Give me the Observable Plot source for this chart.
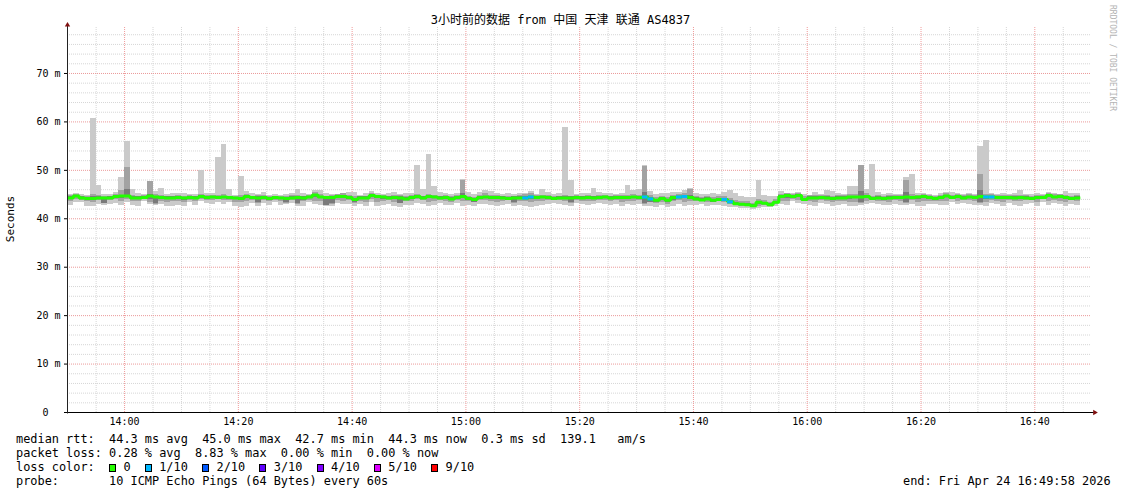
<!DOCTYPE html>
<html><head><meta charset="utf-8">
<script src="https://cdn.jsdelivr.net/npm/d3@7"></script>
<script src="https://cdn.jsdelivr.net/npm/@observablehq/plot@0.6"></script>
<style>
body{margin:0;background:#fff;}
#wrap{position:relative;width:1121px;height:494px;overflow:hidden;font-family:"DejaVu Sans Mono","Noto Sans CJK SC",monospace;color:#000;background:#fff;}
#wrap svg{position:absolute;left:0;top:0;}
.abs{position:absolute;white-space:pre;}
.lg{position:absolute;left:16px;white-space:pre;font-size:11.9px;line-height:14.5px;}
.sq{display:inline-block;box-sizing:border-box;width:7px;height:8px;border:1px solid #000;vertical-align:-1px;margin-right:0.16px;}
</style></head><body><div id="wrap"></div>
<script>
// ---- data (one value per minute, starting 13:50 UTC) ----
const med = [
44.3,44.7,44.3,44.2,44.2,44.3,44.3,44.3,44.6,44.7,
44.7,44.3,44.3,44.4,44.7,44.5,44.4,44.3,44.3,44.4,
44.3,44.4,44.3,44.6,44.4,44.5,44.4,44.5,44.4,44.3,
44.2,44.6,44.4,44.3,44.4,44.2,44.4,44.3,44.2,44.3,
44.4,44.3,44.5,44.9,44.5,44.4,44.4,44.6,44.6,44.4,
44.0,44.3,44.3,44.8,44.6,44.5,44.3,44.4,44.3,44.1,
44.4,44.6,44.3,44.6,44.5,44.3,44.4,44.1,44.4,44.6,
44.2,44.0,44.4,44.5,44.4,44.4,44.3,44.2,44.3,44.3,
44.3,44.5,44.4,44.5,44.4,44.2,44.3,44.3,44.3,44.4,
44.3,44.4,44.3,44.4,44.5,44.3,44.4,44.4,44.4,44.5,
44.4,44.5,44.1,43.8,44.2,43.8,44.4,44.5,44.6,44.4,
44.1,43.9,44.1,43.8,44.0,44.0,43.5,43.1,43.0,42.9,
42.7,43.4,43.2,42.9,43.4,44.6,44.8,44.6,44.8,44.0,
44.3,44.3,44.4,44.3,44.2,44.3,44.3,44.5,44.5,44.5,
44.6,44.2,44.3,44.2,44.3,44.4,44.4,44.5,44.4,44.5,
44.6,44.4,44.2,44.4,44.7,44.4,44.6,44.3,44.5,44.4,
44.6,44.5,44.5,44.4,44.4,44.4,44.3,44.4,44.3,44.2,
44.4,44.4,44.8,44.5,44.6,44.4,44.2,44.3];
const pingMax = [
45.0,45.2,45.1,44.9,60.7,46.9,45.1,45.0,45.4,48.6,
56.0,46.1,45.3,45.1,47.7,45.6,46.3,45.0,45.2,45.3,
45.2,45.1,45.0,49.9,45.3,45.2,52.6,55.4,46.1,44.9,
48.8,45.7,45.3,45.0,45.5,44.9,45.0,44.9,45.1,45.3,
46.1,45.2,45.1,45.8,45.9,45.2,45.1,45.0,45.3,45.5,
45.4,44.9,45.2,45.6,45.3,45.1,45.2,45.4,45.0,45.3,
45.2,51.0,46.1,53.3,46.6,45.4,45.2,45.0,45.3,48.1,
45.4,45.1,45.4,45.9,45.6,45.3,45.1,45.2,45.0,45.2,
45.2,45.6,45.0,46.1,45.5,45.0,45.2,58.8,47.8,45.1,
45.3,45.3,46.2,45.5,45.3,45.2,45.0,45.2,46.9,45.9,
46.1,50.9,45.6,45.1,45.2,45.3,45.5,45.5,45.9,46.2,
45.3,45.1,45.0,45.2,45.1,45.4,45.9,45.2,44.6,44.4,
44.3,48.0,44.9,44.5,44.7,45.7,45.3,45.2,45.5,45.0,
44.9,45.4,45.0,45.8,45.6,45.3,45.1,46.7,46.6,51.1,
46.1,51.3,45.4,45.0,45.2,45.1,45.0,48.6,49.2,45.3,
45.3,45.1,44.9,45.2,45.4,45.5,45.2,45.1,45.3,45.0,
55.0,56.2,45.3,45.1,45.2,45.0,45.2,45.9,45.1,45.0,
45.2,45.0,45.4,45.2,45.1,45.6,45.3,45.2];
const pingMin = [
42.7,43.3,43.4,42.6,42.6,43.0,42.7,42.9,43.1,42.8,
43.4,42.8,42.6,43.5,42.9,42.7,43.0,42.5,42.6,42.8,
42.5,43.3,42.7,43.5,43.1,42.9,43.4,43.0,43.3,42.5,
42.3,42.6,43.2,42.5,43.1,42.7,43.3,42.7,42.9,43.1,
42.5,42.6,43.3,42.9,42.7,42.6,42.5,43.2,42.9,43.0,
42.5,42.9,42.6,43.3,42.5,42.8,43.0,42.5,42.4,42.7,
42.8,43.2,43.0,42.5,42.7,43.1,42.8,42.7,43.1,42.6,
42.8,42.5,43.0,42.9,42.7,42.5,42.7,43.0,42.6,42.8,
42.6,42.4,42.6,42.7,42.9,43.1,43.0,42.7,42.6,43.1,
42.9,42.7,42.9,43.2,43.0,42.8,43.0,42.6,42.9,42.7,
43.0,42.6,42.5,42.4,42.7,42.4,42.5,42.9,42.5,42.7,
42.8,42.9,42.5,42.7,42.8,42.6,42.4,42.3,42.2,42.2,
41.9,42.1,42.3,42.4,42.6,43.0,42.8,43.5,43.2,43.0,
42.8,42.5,43.1,42.9,42.6,42.7,42.9,42.5,42.5,42.7,
42.9,43.1,42.9,42.8,42.7,43.0,42.8,42.8,43.0,42.6,
42.6,42.9,43.0,42.7,42.8,43.3,42.9,43.2,43.0,42.7,
42.8,42.6,43.1,42.9,42.6,43.2,42.8,42.6,43.0,43.2,
42.6,43.4,42.7,43.1,42.9,42.6,43.0,42.7];
const ping9 = [
44.8,45.0,44.7,44.6,45.0,44.9,44.6,44.7,45.0,45.9,
50.5,44.8,44.7,44.9,47.6,45.1,44.8,44.7,44.7,44.9,
44.6,44.8,44.7,45.0,44.8,44.9,44.9,45.0,44.7,44.6,
44.9,45.0,44.7,44.8,44.9,44.6,44.7,44.5,44.6,44.8,
44.8,44.7,44.9,45.4,45.0,44.7,44.8,45.0,45.2,44.8,
44.6,44.7,44.7,45.3,44.9,44.8,44.7,44.9,44.8,44.6,
44.8,45.1,44.7,45.0,44.9,44.7,44.8,44.5,44.8,48.0,
44.6,44.4,44.8,45.2,44.9,44.8,44.7,44.6,44.7,44.8,
45.0,45.2,44.8,44.9,44.8,44.6,44.7,44.8,44.7,44.8,
44.7,44.8,44.7,44.8,44.9,44.7,44.8,44.8,44.8,45.0,
44.9,50.8,44.8,44.4,44.7,44.3,44.9,45.1,45.2,46.1,
44.6,44.4,44.6,44.3,44.6,44.7,44.2,43.7,43.6,43.5,
43.2,43.9,43.7,43.4,43.9,45.1,45.2,45.0,45.3,44.6,
44.8,44.8,44.9,44.8,44.7,44.8,44.8,45.0,45.1,51.0,
45.2,44.7,44.8,44.7,44.8,44.9,44.9,47.8,45.0,44.9,
45.1,44.9,44.7,44.9,45.2,44.9,45.1,44.8,45.0,44.9,
49.2,45.0,45.0,44.9,44.8,44.9,44.8,44.9,44.8,44.7,
44.9,44.9,45.2,45.0,45.1,44.9,44.7,44.8];
const ping2 = [
43.6,43.9,43.8,43.5,43.4,43.8,43.1,43.7,43.9,43.6,
43.9,43.6,43.5,43.9,43.4,43.0,43.6,43.4,43.5,43.6,
43.4,43.8,43.6,44.0,43.8,43.7,43.9,43.8,43.7,43.4,
43.3,43.5,43.8,43.1,43.7,43.5,43.8,43.6,43.1,43.7,
43.0,43.5,43.8,43.6,43.5,42.7,43.0,43.8,43.6,43.7,
43.2,43.6,43.4,43.9,43.4,43.6,43.7,43.4,43.2,43.5,
43.6,43.9,43.7,43.4,43.5,43.8,43.6,43.4,43.8,43.5,
43.6,43.3,43.8,43.7,43.5,43.4,43.5,43.7,43.1,43.6,
43.5,43.4,43.5,43.5,43.7,43.8,43.7,43.5,43.1,43.8,
43.6,43.5,43.6,43.8,43.7,43.6,43.7,43.4,43.6,43.5,
43.7,43.0,43.3,43.1,43.4,43.0,43.5,43.7,43.4,43.5,
43.5,43.5,43.3,43.4,43.5,43.3,43.0,42.8,42.6,42.6,
42.3,42.6,42.7,42.6,42.9,43.6,43.5,43.9,43.8,43.5,
43.5,43.3,43.7,43.6,43.4,43.5,43.6,43.3,43.4,43.1,
43.6,43.7,43.6,43.5,43.4,43.7,43.6,43.2,43.7,43.4,
43.5,43.6,43.6,43.5,43.5,43.9,43.6,43.8,43.7,43.5,
43.2,43.4,43.8,43.6,43.4,43.8,43.6,43.5,43.7,43.8,
43.4,43.9,43.5,43.8,43.6,43.4,43.7,43.5];
const ping8 = [
44.5,44.8,44.5,44.4,44.5,44.5,44.4,44.5,44.8,44.9,
46.0,44.5,44.5,44.6,45.0,44.7,44.5,44.5,44.5,44.6,
44.4,44.6,44.5,44.8,44.6,44.7,44.6,44.7,44.5,44.4,
44.4,44.8,44.5,44.5,44.6,44.4,44.5,44.4,44.4,44.5,
44.5,44.5,44.7,45.1,44.7,44.5,44.6,44.8,44.8,44.6,
44.2,44.5,44.5,45.0,44.7,44.6,44.5,44.6,44.5,44.3,
44.6,44.8,44.5,44.8,44.7,44.5,44.6,44.3,44.6,45.2,
44.4,44.2,44.6,44.7,44.6,44.6,44.5,44.4,44.5,44.5,
44.5,44.7,44.6,44.7,44.6,44.4,44.5,44.5,44.5,44.6,
44.5,44.6,44.5,44.6,44.7,44.5,44.6,44.6,44.6,44.7,
44.6,45.4,44.4,44.0,44.4,44.0,44.6,44.7,44.8,44.9,
44.3,44.1,44.3,44.0,44.2,44.2,43.8,43.3,43.2,43.1,
42.9,43.6,43.4,43.1,43.6,44.8,45.0,44.8,45.0,44.2,
44.5,44.5,44.6,44.5,44.4,44.5,44.5,44.7,44.7,45.6,
44.8,44.4,44.5,44.4,44.5,44.6,44.6,45.5,44.6,44.7,
44.8,44.6,44.4,44.6,44.9,44.6,44.8,44.5,44.7,44.6,
45.9,44.7,44.7,44.6,44.6,44.6,44.5,44.6,44.5,44.4,
44.6,44.6,45.0,44.7,44.8,44.6,44.4,44.5];
const ping3 = [
44.0,44.3,44.1,43.9,43.8,44.0,43.2,44.0,44.3,44.2,
44.4,44.0,43.9,44.2,44.0,43.2,44.0,43.9,43.9,44.0,
43.8,44.1,43.9,44.3,44.1,44.1,44.2,44.1,44.0,43.9,
43.8,44.1,44.1,43.3,44.0,43.8,44.0,43.9,43.3,43.9,
43.2,43.8,44.1,44.4,44.1,42.8,43.2,44.2,44.1,44.0,
43.3,43.9,43.9,44.4,44.1,44.0,43.9,44.0,43.2,43.7,
44.0,44.2,43.9,44.1,44.1,44.0,44.0,43.7,44.0,44.1,
43.8,43.4,44.0,44.1,43.9,43.9,43.9,43.8,43.3,43.9,
43.9,44.0,44.0,44.1,44.0,43.9,44.0,43.9,43.3,44.1,
43.9,43.9,44.0,44.1,44.1,43.9,44.0,43.9,44.0,44.1,
44.0,43.2,43.4,43.3,43.7,43.3,43.8,44.1,44.1,44.0,
43.7,43.5,43.7,43.4,43.6,43.6,43.2,42.9,42.8,42.7,
42.5,42.9,42.9,42.7,43.1,44.1,44.2,44.2,44.4,43.7,
43.9,43.9,44.0,43.9,43.8,43.9,43.9,44.0,44.1,43.3,
44.1,43.9,43.9,43.9,44.0,44.0,44.0,43.4,44.1,44.0,
44.1,44.0,43.9,44.0,44.3,44.1,44.2,44.0,44.2,44.1,
43.4,44.0,44.1,44.0,43.9,44.0,43.9,44.0,43.9,43.8,
44.0,44.1,44.4,44.1,44.2,43.9,43.8,43.9];
// minutes with packet loss and their loss level
const lossMinute = [80,81,101,102,107,108,115,116,161,162];
const lossLevel  = ["1/10","1/10","1/10","1/10","1/10","1/10","1/10","1/10","1/10","1/10"];
// legend
const lossLabels = ["0","1/10","2/10","3/10","4/10","5/10","9/10"];
const lossColors = ["#26ff00","#00b8ff","#0059ff","#5e00ff","#7e00ff","#dd00ff","#ff0000"];
const yTicks = [0,10,20,30,40,50,60,70];

// ---- build ----
const start = new Date(Date.UTC(2026,3,24,13,49,58));
const end = new Date(Date.UTC(2026,3,24,16,49,58));
const first = Date.UTC(2026,3,24,13,50,0);
const rows = med.map((m,i)=>({
  t0:new Date(first+i*60000), t1:new Date(first+(i+1)*60000), med:m,
  lo:pingMin[i], hi:pingMax[i], lo2:ping2[i], hi2:ping9[i], lo3:ping3[i], hi3:ping8[i]
}));
const medLine = rows.map(r=>({t:r.t0, v:r.med})).concat([{t:rows[rows.length-1].t1, v:med[med.length-1]}]);
const colorOf = Object.fromEntries(lossLabels.map((l,i)=>[l,lossColors[i]]));
const lossRows = lossMinute.map((m,k)=>({t0:rows[m].t0, t1:rows[m].t1, med:rows[m].med, c:colorOf[lossLevel[k]]}));
const majorX = d3.utcMinute.every(20).range(start, end);
const minorX = d3.utcMinute.every(5).range(new Date(+start+120000), end).filter(d=>d.getUTCMinutes()%20!==0);
const majorY = d3.range(10, 80, 10);
const minorY = d3.range(2, 80, 2).filter(v=>v%10!==0);
const ytop = 79.7;

const chart = Plot.plot({
  width:1121, height:430,
  marginLeft:67, marginRight:30, marginTop:26, marginBottom:18,
  style:{fontFamily:'"DejaVu Sans Mono", monospace', fontSize:"10px", background:"transparent", color:"#000", overflow:"visible"},
  x:{type:"utc", domain:[start,end]},
  y:{domain:[0,ytop]},
  color:{type:"identity"},
  marks:[
    Plot.ruleY(minorY, {stroke:"#d6d6d6", strokeDasharray:"1,1"}),
    Plot.ruleX(minorX, {y1:0, y2:ytop, stroke:"#d6d6d6", strokeDasharray:"1,1"}),
    Plot.ruleY(majorY, {stroke:"#eb9a9a", strokeDasharray:"1,1"}),
    Plot.ruleX(majorX, {y1:0, y2:ytop, stroke:"#f09a9a", strokeDasharray:"1,1"}),
    Plot.rect(rows, {x1:"t0", x2:"t1", y1:"lo", y2:"hi", fill:"#cacaca", shapeRendering:"crispEdges"}),
    Plot.rect(rows, {x1:"t0", x2:"t1", y1:"lo2", y2:"hi2", fill:"#a2a2a2", shapeRendering:"crispEdges"}),
    Plot.rect(rows, {x1:"t0", x2:"t1", y1:"lo3", y2:"hi3", fill:"#7a7a7a", shapeRendering:"crispEdges"}),
    Plot.line(medLine, {x:"t", y:"v", curve:"step-after", stroke:"#22ff00", strokeWidth:3, strokeLinejoin:"miter", strokeLinecap:"butt"}),
    Plot.ruleY(lossRows, {x1:"t0", x2:"t1", y:"med", stroke:"c", strokeWidth:3}),
    Plot.axisY({ticks:yTicks, tickFormat:v=> v===0 ? "0\u00a0\u00a0" : v+"\u00a0m", tickSize:3, tickPadding:4, label:null, fontSize:10}),
    Plot.axisX({ticks:majorX, tickFormat:d3.utcFormat("%H:%M"), tickSize:0, tickPadding:5.5, label:null, fontSize:10}),
    Plot.ruleY([0], {x1:new Date(+start-30000), x2:new Date(+end+30000), stroke:"#000"}),
    Plot.ruleX([start], {y1:-0.3, y2:80, stroke:"#222"}),
    Plot.dot([{t:new Date(+end+34000), v:0}], {x:"t", y:"v", symbol:"triangle", r:2, fill:"#801010", stroke:"none", rotate:90}),
    Plot.dot([{t:start, v:80}], {x:"t", y:"v", symbol:"triangle", r:2, fill:"#801010", stroke:"none"})
  ]
});
const wrap = document.getElementById("wrap");
wrap.appendChild(chart);

function addDiv(cls, style, html){ const d=document.createElement("div"); d.className=cls; d.style.cssText=style; d.innerHTML=html; wrap.appendChild(d); return d; }
addDiv("abs","left:0;width:1121px;top:13px;text-align:center;font-size:12px;line-height:14px;", "3小时前的数据 from 中国 天津 联通 AS4837");
addDiv("abs","left:11px;top:219px;font-size:11px;line-height:12px;transform:translate(-50%,-50%) rotate(-90deg);", "Seconds");
addDiv("abs","left:1108px;top:5px;font-size:8px;writing-mode:vertical-rl;color:#b4b4b4;", "RRDTOOL / TOBI OETIKER");
addDiv("lg","top:431.5px;", "median rtt:  44.3 ms avg  45.0 ms max  42.7 ms min  44.3 ms now  0.3 ms sd  139.1   am/s");
addDiv("lg","top:446px;", "packet loss: 0.28 % avg  8.83 % max  0.00 % min  0.00 % now");
const items = lossLabels.map((l,i)=>`<span class="sq" style="background:${lossColors[i]}"></span> ${l}`).join("  ");
addDiv("lg","top:460px;", "loss color:  " + items);
addDiv("lg","top:474px;", "probe:       10 ICMP Echo Pings (64 Bytes) every 60s");
addDiv("lg","top:474px;left:903px;", "end: Fri Apr 24 16:49:58 2026");
</script>
</body></html>
